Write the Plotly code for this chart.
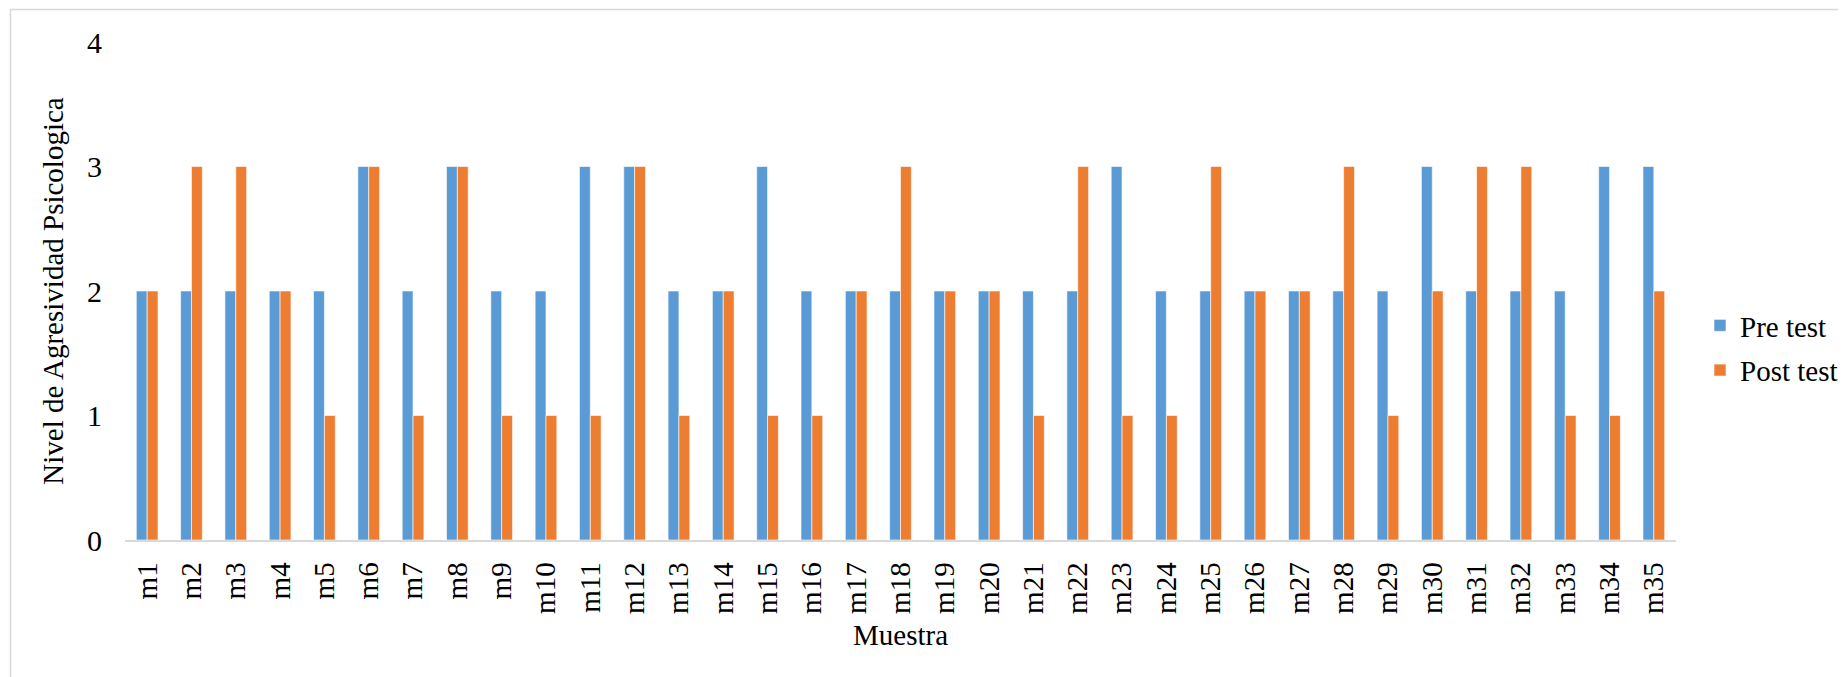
import plotly.graph_objects as go

categories = [f"m{i}" for i in range(1, 36)]
pre_test = [2, 2, 2, 2, 2, 3, 2, 3, 2, 2, 3, 3, 2, 2, 3, 2, 2, 2, 2, 2,
            2, 2, 3, 2, 2, 2, 2, 2, 2, 3, 2, 2, 2, 3, 3]
post_test = [2, 3, 3, 2, 1, 3, 1, 3, 1, 1, 1, 3, 1, 2, 1, 1, 2, 3, 2, 2,
             1, 3, 1, 1, 3, 2, 2, 3, 1, 2, 3, 3, 1, 1, 2]
y_ticks = [0, 1, 2, 3, 4]

FONT = "Liberation Serif, Times New Roman, serif"

fig = go.Figure()
fig.add_trace(go.Bar(x=categories, y=pre_test, name="Pre test",
                     marker=dict(color="#5B9BD5", line=dict(color="#ffffff", width=0.6)),
                     legendgroup="a"))
fig.add_trace(go.Bar(x=categories, y=post_test, name="Post test",
                     marker=dict(color="#ED7D31", line=dict(color="#ffffff", width=0.6)),
                     legendgroup="b"))

# page body has an 8px default margin
OFF = 8
W, H = 1846 - OFF, 677 - OFF
plot_left, plot_right, plot_top, plot_bottom = 125, 1676, 42, 540  # page coords
L = plot_left - OFF
R = W - (plot_right - OFF)
T = plot_top - OFF
B = H - (plot_bottom - OFF)
pw = plot_right - plot_left
ph = plot_bottom - plot_top

def px_to_paper_x(px):
    return (px - plot_left) / pw

def px_to_paper_y(py):
    return (plot_bottom - py) / ph

fig.update_layout(
    width=W, height=H,
    margin=dict(l=L, r=R, t=T, b=B, autoexpand=False),
    paper_bgcolor="white", plot_bgcolor="white",
    barmode="group", bargap=0.51, bargroupgap=0,
    font=dict(family=FONT, color="#000000", size=29),
    legend=dict(x=px_to_paper_x(1700), y=px_to_paper_y(348), xanchor="left", yanchor="middle",
                font=dict(family=FONT, size=29, color="#000000"),
                tracegroupgap=4, bgcolor="rgba(0,0,0,0)"),
    xaxis=dict(
        title=dict(text="Muestra", font=dict(family=FONT, size=29), standoff=12),
        tickangle=-90, showgrid=False, zeroline=False,
        showline=True, linecolor="#d9d9d9", linewidth=1.5,
        ticks="", ticklabelstandoff=9,
        tickfont=dict(family=FONT, size=29),
    ),
    yaxis=dict(
        title=dict(text="Nivel de Agresividad Psicologica", font=dict(family=FONT, size=29), standoff=14),
        range=[0, 4], tickvals=y_ticks, showgrid=False, zeroline=False,
        showline=False, ticks="", ticklabelstandoff=22,
        tickfont=dict(family=FONT, size=30),
    ),
    shapes=[dict(type="rect", xref="paper", yref="paper",
                 x0=px_to_paper_x(10.5), x1=px_to_paper_x(1846 + 20),
                 y0=px_to_paper_y(677 + 20), y1=px_to_paper_y(9.5),
                 line=dict(color="#d9d9d9", width=1.5), fillcolor="rgba(0,0,0,0)",
                 layer="below")],
)

fig.write_html("out.html")
